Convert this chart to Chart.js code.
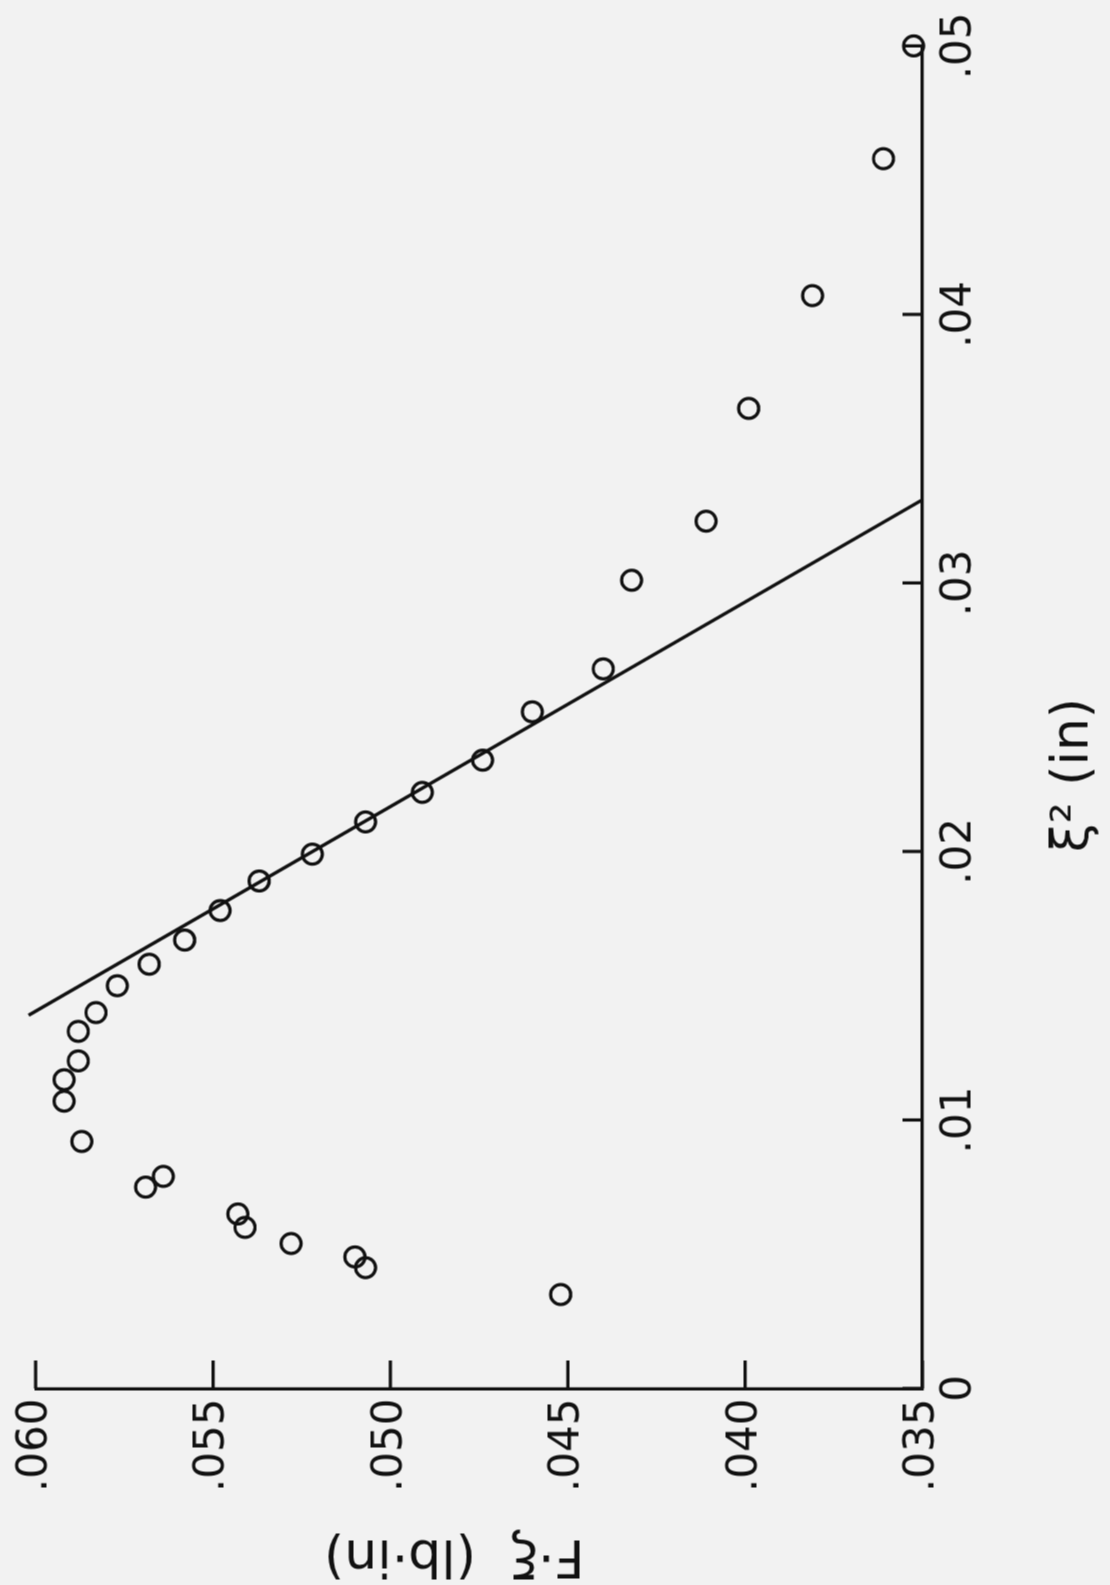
<!DOCTYPE html>
<html>
<head>
<meta charset="utf-8">
<script src="https://cdn.jsdelivr.net/npm/chart.js@4.4.1/dist/chart.umd.min.js"></script>
<style>
  html, body { margin: 0; padding: 0; background: #f2f2f2; overflow: hidden; }
  body { width: 1110px; height: 1585px; position: relative; }
  /* the scanned figure is turned on its side, so draw it upright and rotate */
  #wrap { position: absolute; left: -237.5px; top: 237.5px; width: 1585px; height: 1110px; transform: rotate(-90deg); }
</style>
</head>
<body>
<div id="wrap"><canvas id="grafica" width="1585" height="1110"></canvas></div>
<script>
// measured points: xi^2 (in) and F*xi (lb*in)
var xi2 = [0.0035, 0.0045, 0.0049, 0.0054, 0.0060, 0.0065, 0.0075, 0.0079, 0.0092, 0.0107,
           0.0115, 0.0122, 0.0133, 0.0140, 0.0150, 0.0158, 0.0167, 0.0178, 0.0189, 0.0199,
           0.0211, 0.0222, 0.0234, 0.0252, 0.0268, 0.0301, 0.0323, 0.0365, 0.0407, 0.0458, 0.0500];
var fxi = [0.0452, 0.0507, 0.0510, 0.0528, 0.0541, 0.0543, 0.0569, 0.0564, 0.0587, 0.0592,
           0.0592, 0.0588, 0.0588, 0.0583, 0.0577, 0.0568, 0.0558, 0.0548, 0.0537, 0.0522,
           0.0507, 0.0491, 0.0474, 0.0460, 0.0440, 0.0432, 0.0411, 0.0399, 0.0381, 0.0361, 0.03525];

// straight fit line, end points
var lineXi2 = [0.0139, 0.0331];
var lineF = [0.0602, 0.0350];

var xTicks = [0, 0.01, 0.02, 0.03, 0.04, 0.05];
var yTicks = [0.035, 0.040, 0.045, 0.050, 0.055, 0.060];

var ink = '#111111';
var fam = '"DejaVu Sans", sans-serif';

var puntos = [];
for (var i = 0; i < xi2.length; i++) puntos.push({x: xi2[i], y: fxi[i]});
var recta = [];
for (var j = 0; j < lineXi2.length; j++) recta.push({x: lineXi2[j], y: lineF[j]});

// tick marks point into the plot, draw them from the scales
var marcas = {
  id: 'marcas',
  afterDraw: function(chart) {
    var c = chart.ctx, a = chart.chartArea, sx = chart.scales.x, sy = chart.scales.y;
    c.save();
    c.strokeStyle = ink;
    c.lineWidth = 3.2;
    c.beginPath();
    xTicks.forEach(function(t) {
      var px = sx.getPixelForValue(t);
      c.moveTo(px, a.bottom); c.lineTo(px, a.bottom - 20);
    });
    yTicks.forEach(function(t) {
      var py = sy.getPixelForValue(t);
      c.moveTo(a.left, py); c.lineTo(a.left + 28, py);
    });
    c.stroke();
    c.restore();
  }
};

var ctx = document.getElementById('grafica');
var grafica = new Chart(ctx, {
  type: 'scatter',
  data: {
    datasets: [
      {
        label: 'datos',
        data: puntos,
        showLine: false,
        pointStyle: 'circle',
        pointRadius: 10,
        pointBorderWidth: 3.2,
        borderColor: ink,
        backgroundColor: 'rgba(0,0,0,0)',
        clip: false
      },
      {
        label: 'recta',
        data: recta,
        showLine: true,
        pointRadius: 0,
        borderColor: ink,
        borderWidth: 3.4,
        clip: false
      }
    ]
  },
  options: {
    responsive: false,
    animation: false,
    layout: { autoPadding: false, padding: { left: 0, top: 29, right: 41, bottom: 0 } },
    plugins: { legend: { display: false }, tooltip: { enabled: false } },
    scales: {
      x: {
        type: 'linear', min: 0, max: 0.05,
        afterBuildTicks: function(s) { s.ticks = xTicks.map(function(v) { return {value: v}; }); },
        afterFit: function(s) { s.height = 188; },
        grid: { drawOnChartArea: false, drawTicks: false },
        border: { color: ink, width: 3.2 },
        ticks: {
          color: ink, padding: 12, maxRotation: 0,
          font: { family: fam, size: 42 },
          callback: function(v) { return v === 0 ? '0' : v.toFixed(2).replace(/^0/, ''); }
        },
        title: {
          display: true, text: 'ξ² (in)       ', color: ink,
          font: { family: fam, size: 52 }, padding: { top: 0, bottom: 5 }
        }
      },
      y: {
        type: 'linear', min: 0.035, max: 0.060,
        afterBuildTicks: function(s) { s.ticks = yTicks.map(function(v) { return {value: v}; }); },
        afterFit: function(s) { s.width = 197; },
        grid: { drawOnChartArea: false, drawTicks: false },
        border: { color: ink, width: 3.2 },
        ticks: {
          color: ink, padding: 10,
          font: { family: fam, size: 42 },
          callback: function(v) { return v.toFixed(3).replace(/^0/, ''); }
        },
        title: {
          display: true, text: '   F·ξ  (lb·in)', color: ink,
          font: { family: fam, size: 52 }, padding: { top: 0, bottom: 0 }
        }
      }
    }
  },
  plugins: [marcas]
});
</script>
</body>
</html>
